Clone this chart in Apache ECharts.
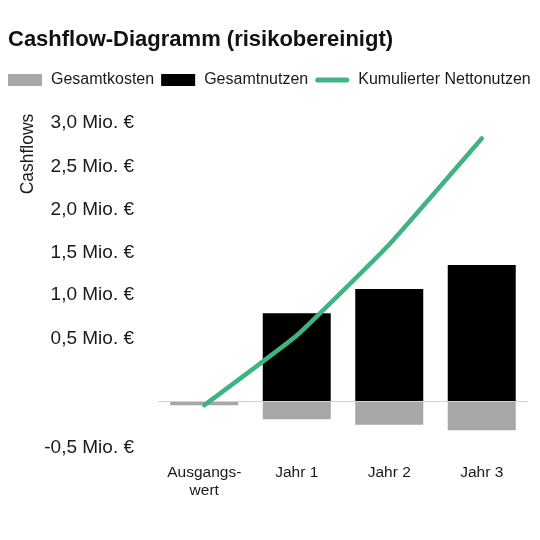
<!DOCTYPE html>
<html><head><meta charset="utf-8">
<script src="https://cdn.jsdelivr.net/npm/echarts@6/dist/echarts.min.js"></script>
<style>html,body{margin:0;padding:0;background:#fff}#c{width:540px;height:540px}</style>
</head><body><div id="c"></div>
<script>
const categories = ['Ausgangs-\nwert', 'Jahr 1', 'Jahr 2', 'Jahr 3'];
const gesamtkosten = [-0.04, -0.19, -0.25, -0.31];
const gesamtnutzen = [0, 0.95, 1.21, 1.47];
const kumulierterNettonutzen = [-0.04, 0.71, 1.69, 2.83];
const yTickValues = [-0.5, 0, 0.5, 1.0, 1.5, 2.0, 2.5, 3.0];
const yTickLabels = ['-0,5 Mio. €', '', '0,5 Mio. €', '1,0 Mio. €', '1,5 Mio. €', '2,0 Mio. €', '2,5 Mio. €', '3,0 Mio. €'];
const seriesNames = ['Gesamtkosten', 'Gesamtnutzen', 'Kumulierter Nettonutzen'];

const FONT = '"Liberation Sans", Arial, sans-serif';
const TXT = '#1a1a1a';
const GREEN = '#3fb380';
// visual lift (px) of individual tick labels, as in the reference layout
const labelLift = [0, 0, 33, 27, 18, 12, 5, 0];
const rich = {};
labelLift.forEach((p, i) => { rich['s' + i] = { fontSize: 19, fontFamily: FONT, color: TXT, padding: [0, 0, p, 0] }; });

const chart = echarts.init(document.getElementById('c'), null, { renderer: 'canvas' });
chart.setOption({
  animation: false,
  backgroundColor: '#fff',
  textStyle: { fontFamily: FONT },
  title: {
    text: 'Cashflow-Diagramm (risikobereinigt)',
    left: 8, top: 29, padding: 0,
    textStyle: { fontSize: 22, fontWeight: 'bold', color: '#111', fontFamily: FONT }
  },
  legend: {
    left: 8, top: 72, padding: 0,
    itemWidth: 34, itemHeight: 12, itemGap: 7,
    symbolKeepAspect: true,
    textStyle: { fontSize: 16, color: TXT, fontFamily: FONT, padding: [0, 0, 0, 4] },
    data: [
      { name: seriesNames[0], icon: 'rect' },
      { name: seriesNames[1], icon: 'rect' },
      { name: seriesNames[2], icon: 'path://M2.5,0L31.5,0A2.5,2.5,0,0,1,31.5,5L2.5,5A2.5,2.5,0,0,1,2.5,0Z',
        itemStyle: { color: GREEN } }
    ]
  },
  graphic: [{
    type: 'text', x: 28, y: 154, rotation: Math.PI / 2,
    style: { text: 'Cashflows', fontSize: 17.5, fontFamily: FONT, fill: TXT, align: 'center', verticalAlign: 'middle' }
  }],
  grid: { left: 158, right: 12, top: 122.7, bottom: 92, containLabel: false, outerBoundsMode: 'none' },
  xAxis: {
    type: 'category',
    data: categories,
    axisLine: { show: false, onZero: false },
    axisTick: { show: false },
    splitLine: { show: false },
    axisLabel: { margin: 16, fontSize: 15.5, lineHeight: 18, color: TXT, fontFamily: FONT, interval: 0 }
  },
  yAxis: {
    type: 'value',
    min: -0.5, max: 3.0, interval: 0.5,
    axisLine: { show: false },
    axisTick: { show: false },
    splitLine: { show: false },
    axisLabel: {
      margin: 24, color: TXT, fontSize: 19, fontFamily: FONT,
      formatter: function (v) {
        const i = yTickValues.findIndex(t => Math.abs(t - v) < 1e-9);
        if (i < 0 || !yTickLabels[i]) return '';
        return '{s' + i + '|' + yTickLabels[i] + '}';
      },
      rich: rich
    }
  },
  series: [
    {
      name: seriesNames[0], type: 'bar', data: gesamtkosten,
      barWidth: 68, barGap: '-100%',
      itemStyle: { color: '#a7a7aa' },
      markLine: {
        silent: true, symbol: 'none', label: { show: false },
        lineStyle: { color: '#d2d2d2', width: 1, type: 'solid' },
        data: [{ yAxis: 0 }]
      }
    },
    {
      name: seriesNames[1], type: 'bar', data: gesamtnutzen,
      barWidth: 68, barGap: '-100%',
      itemStyle: { color: '#000' }
    },
    {
      name: seriesNames[2], type: 'line', data: kumulierterNettonutzen,
      symbol: 'none', smooth: 0.1,
      lineStyle: { color: GREEN, width: 4.5, cap: 'round', join: 'round' },
      itemStyle: { color: GREEN },
      z: 5
    }
  ]
});
</script>
</body></html>
